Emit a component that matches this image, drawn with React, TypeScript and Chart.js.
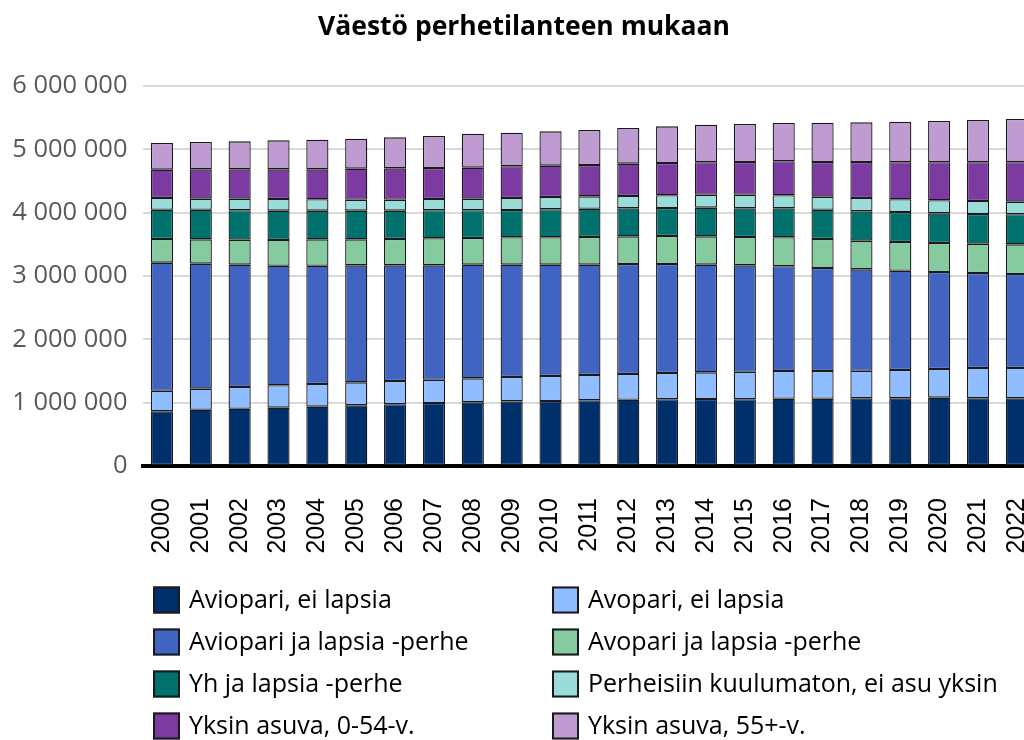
import React, { useEffect, useRef } from "react";
import { Chart, registerables } from "chart.js";

Chart.register(...registerables);

const years = [
  "2000", "2001", "2002", "2003", "2004", "2005", "2006", "2007", "2008", "2009", "2010",
  "2011", "2012", "2013", "2014", "2015", "2016", "2017", "2018", "2019", "2020", "2021", "2022",
];

const aviopariEiLapsia = [
  863000, 889000, 905000, 921000, 937000, 958000, 974000, 995000, 1005000, 1021000, 1026000,
  1037000, 1047000, 1053000, 1058000, 1053000, 1063000, 1063000, 1068000, 1068000, 1079000, 1068000, 1068000,
];
const avopariEiLapsia = [
  326000, 332000, 342000, 353000, 358000, 363000, 368000, 368000, 379000, 384000, 395000,
  400000, 406000, 415000, 421000, 436000, 437000, 437000, 437000, 448000, 453000, 479000, 479000,
];
const aviopariJaLapsia = [
  2022000, 1974000, 1932000, 1889000, 1868000, 1847000, 1826000, 1805000, 1795000, 1774000, 1758000,
  1742000, 1736000, 1721000, 1700000, 1679000, 1653000, 1626000, 1600000, 1568000, 1531000, 1500000, 1485000,
];
const avopariJaLapsia = [
  373000, 384000, 395000, 405000, 416000, 411000, 416000, 427000, 421000, 432000, 432000,
  437000, 437000, 443000, 447000, 448000, 458000, 458000, 453000, 453000, 458000, 464000, 468000,
];
const yhJaLapsia = [
  463000, 468000, 463000, 464000, 453000, 453000, 448000, 442000, 437000, 431000, 442000,
  447000, 442000, 442000, 453000, 452000, 457000, 463000, 463000, 474000, 468000, 468000, 474000,
];
const perheisiinKuulumaton = [
  185000, 174000, 184000, 184000, 179000, 173000, 173000, 179000, 184000, 190000, 194000,
  195000, 195000, 200000, 205000, 216000, 206000, 206000, 211000, 200000, 206000, 205000, 200000,
];
const yksinAsuva0_54 = [
  447000, 463000, 463000, 468000, 473000, 490000, 495000, 489000, 490000, 500000, 495000,
  495000, 511000, 510000, 511000, 516000, 537000, 547000, 568000, 584000, 600000, 611000, 621000,
];
const yksinAsuva55 = [
  421000, 432000, 442000, 458000, 469000, 473000, 489000, 506000, 536000, 531000, 542000,
  552000, 563000, 579000, 594000, 600000, 605000, 621000, 626000, 642000, 652000, 668000, 684000,
];

const seriesLabels = [
  "Aviopari, ei lapsia",
  "Avopari, ei lapsia",
  "Aviopari ja lapsia -perhe",
  "Avopari ja lapsia -perhe",
  "Yh ja lapsia -perhe",
  "Perheisiin kuulumaton, ei asu yksin",
  "Yksin asuva, 0-54-v.",
  "Yksin asuva, 55+-v.",
];
const seriesValues = [
  aviopariEiLapsia,
  avopariEiLapsia,
  aviopariJaLapsia,
  avopariJaLapsia,
  yhJaLapsia,
  perheisiinKuulumaton,
  yksinAsuva0_54,
  yksinAsuva55,
];
const seriesColors = [
  "#00306B",
  "#8FBDFF",
  "#4164C3",
  "#86CA9F",
  "#00716D",
  "#9ADCD9",
  "#7B3BA0",
  "#BE9BD0",
];

const title = "Väestö perhetilanteen mukaan";

const W = 1048;
const H = 740;

const legendPlugin = {
  id: "gridLegend",
  afterDraw(chart: any) {
    const ctx = chart.ctx;
    const cols = [153, 552];
    const rows = [600, 642, 684, 726];
    ctx.save();
    chart.data.datasets.forEach((ds: any, i: number) => {
      const x = cols[i % 2];
      const y = rows[Math.floor(i / 2)];
      ctx.fillStyle = ds.backgroundColor;
      ctx.fillRect(x, y - 13.5, 27, 27);
      ctx.lineWidth = 2;
      ctx.strokeStyle = "#1a1a1a";
      ctx.strokeRect(x + 1, y - 12.5, 25, 25);
      ctx.fillStyle = "#000";
      ctx.font = "25px 'Open Sans', sans-serif";
      ctx.textBaseline = "middle";
      ctx.textAlign = "left";
      ctx.fillText(ds.label, x + 36, y + 1);
    });
    ctx.restore();
  },
};

export default function App() {
  const ref = useRef<HTMLCanvasElement | null>(null);
  useEffect(() => {
    if (!ref.current) return;
    const chart = new Chart(ref.current, {
      type: "bar",
      data: {
        labels: years,
        datasets: seriesLabels.map((label, i) => ({
          label,
          data: seriesValues[i],
          backgroundColor: seriesColors[i],
          borderColor: "#1a1a1a",
          borderWidth: 1.3,
          borderSkipped: false,
          inflateAmount: 0,
          barPercentage: 0.57,
          categoryPercentage: 1,
        })),
      },
      options: {
        responsive: false,
        animation: false,
        layout: { padding: { left: 0, right: 0, top: 0, bottom: 0 } },
        plugins: {
          legend: { display: false },
          tooltip: { enabled: false },
          title: {
            display: true,
            text: title,
            color: "#000",
            font: { family: "'Open Sans', sans-serif", size: 26.5, weight: "bold" },
            padding: { top: 12, bottom: 42.2 },
          },
        },
        scales: {
          x: {
            stacked: true,
            grid: { display: false, drawTicks: false },
            border: { display: true, color: "#000", width: 4 },
            ticks: {
              color: "#000",
              font: { family: "'Liberation Sans', Arial, sans-serif", size: 25 },
              minRotation: 90,
              maxRotation: 90,
              autoSkip: false,
              padding: 32,
            },
            afterFit: (scale: any) => {
              scale.height = 274;
              scale.paddingLeft = 0;
              scale.paddingRight = 11.7;
            },
          },
          y: {
            stacked: true,
            min: 0,
            max: 6000000,
            border: { display: false },
            grid: { color: "#d9d9d9", lineWidth: 2, drawTicks: false },
            ticks: {
              stepSize: 1000000,
              color: "#595959",
              padding: 15,
              font: { family: "'Open Sans', sans-serif", size: 25.5 },
              callback: (v: any) => String(Math.round(Number(v))).replace(/\B(?=(\d{3})+(?!\d))/g, " "),
            },
            afterFit: (scale: any) => {
              scale.width = 142.5;
            },
          },
        },
      },
      plugins: [legendPlugin],
    });
    return () => chart.destroy();
  }, []);
  return (
    <div style={{ position: "fixed", left: 0, top: 0, width: 1024, height: 740, overflow: "hidden", background: "#fff" }}>
      <canvas ref={ref} width={W} height={H} style={{ display: "block", width: W, height: H }} />
    </div>
  );
}
